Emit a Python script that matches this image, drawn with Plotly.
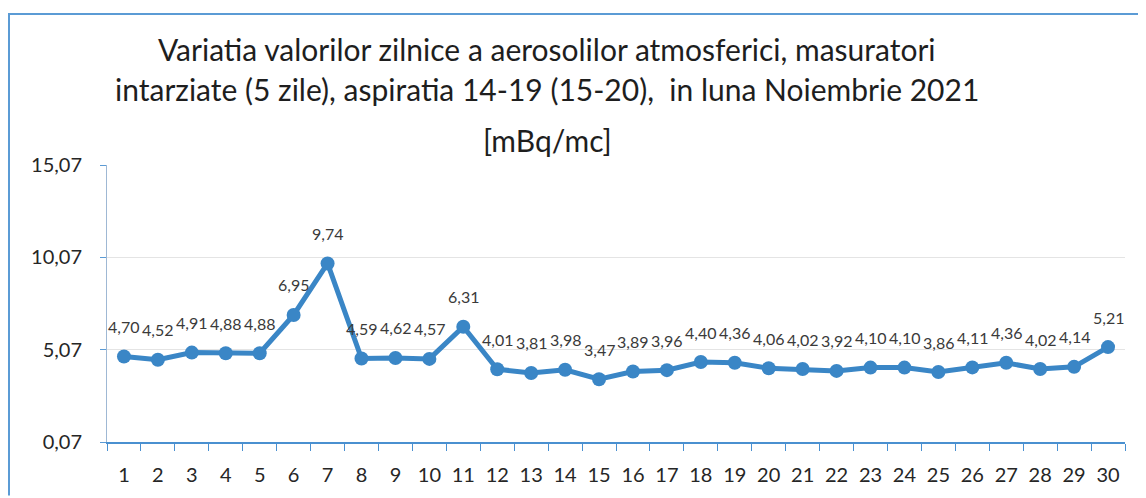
import plotly.graph_objects as go

# day of month, Noiembrie 2021
days = [str(d) for d in range(1, 31)]
values = [4.70, 4.52, 4.91, 4.88, 4.88, 6.95, 9.74, 4.59, 4.62, 4.57,
          6.31, 4.01, 3.81, 3.98, 3.47, 3.89, 3.96, 4.40, 4.36, 4.06,
          4.02, 3.92, 4.10, 4.10, 3.86, 4.11, 4.36, 4.02, 4.14, 5.21]
y_ticks = [0.07, 5.07, 10.07, 15.07]
title_lines = [
    "Variatia valorilor zilnice a aerosolilor atmosferici, masuratori",
    "intarziate (5 zile), aspiratia 14-19 (15-20),  in luna Noiembrie 2021",
    "[mBq/mc]",
]

# page has an 8px body margin, so the figure is a bit smaller than the window
OFF = 8
W, H = 1146 - OFF, 498 - OFF
L, T = 107 - OFF, 165 - OFF
R = W - (1125 - OFF)
B = H - (444 - OFF)
FONT = "Lato, 'Open Sans', sans-serif"
BLUE = "#3a86c6"


def px_to_paper_y(py):
    # py is a page pixel
    return (H - B - (py - OFF)) / (H - T - B)


def px_to_paper_x(px):
    return (px - OFF - L) / (W - L - R)


fig = go.Figure()
fig.add_trace(go.Scatter(
    x=days,
    y=values,
    mode="lines+markers",
    line=dict(color=BLUE, width=5),
    marker=dict(color=BLUE, size=14),
    showlegend=False,
    cliponaxis=False,
))

# data labels above each point (category index as x)
for i, v in enumerate(values):
    fig.add_annotation(
        x=i, y=v, text=f"{v:.2f}".replace(".", ","),
        showarrow=False, yshift=30,
        font=dict(family=FONT, size=16, color="#3a3a3a"),
    )

# title lines
for text, py in zip(title_lines, [48, 88, 140]):
    fig.add_annotation(
        xref="paper", yref="paper",
        x=px_to_paper_x(547), y=px_to_paper_y(py),
        text=text, showarrow=False, yanchor="middle", xanchor="center",
        font=dict(family=FONT, size=30, color="#1e1e1e"),
    )

# chart frame (top and left edges)
fig.add_shape(type="line", xref="paper", yref="paper",
              x0=px_to_paper_x(0), x1=px_to_paper_x(1146),
              y0=px_to_paper_y(13), y1=px_to_paper_y(13),
              line=dict(color="#5b9bd5", width=2))
fig.add_shape(type="line", xref="paper", yref="paper",
              x0=px_to_paper_x(9), x1=px_to_paper_x(9),
              y0=px_to_paper_y(13), y1=px_to_paper_y(498),
              line=dict(color="#5b9bd5", width=2))

fig.update_layout(
    width=W, height=H,
    margin=dict(l=L, r=R, t=T, b=B),
    paper_bgcolor="white",
    plot_bgcolor="white",
    font=dict(family=FONT, color="#404040"),
)
fig.update_xaxes(
    type="category",
    range=[-0.5, 29.5],
    showline=True, linecolor="#4a90d0", linewidth=2,
    ticks="outside", tickson="boundaries", ticklen=7, tickcolor="#4a90d0",
    ticklabelstandoff=14,
    showgrid=False,
    tickfont=dict(family=FONT, size=20, color="#262626"),
)
fig.update_yaxes(
    range=[0.07, 15.07],
    tickvals=y_ticks,
    ticktext=[f"{t:.2f}".replace(".", ",") for t in y_ticks],
    showline=True, linecolor="#9fb8d4", linewidth=1,
    ticks="outside", ticklen=6, tickcolor="#5b9bd5",
    ticklabelstandoff=14,
    showgrid=True, gridcolor="#e4e4e4", gridwidth=1,
    zeroline=False,
    tickfont=dict(family=FONT, size=20, color="#262626"),
)

fig.write_html("out.html")
